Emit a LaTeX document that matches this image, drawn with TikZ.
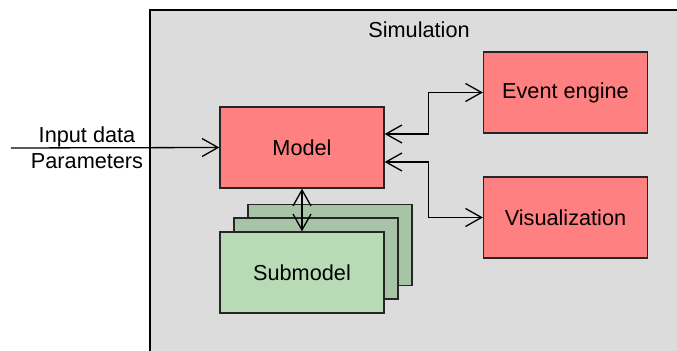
\documentclass[tikz,border=0pt]{standalone}
\usepackage{fontspec}
\setmainfont{Liberation Sans}
\usetikzlibrary{arrows.meta}

\definecolor{simgray}{RGB}{220,220,220}
\definecolor{modred}{RGB}{255,128,128}
\definecolor{subfront}{RGB}{184,219,182}
\definecolor{subback}{RGB}{168,196,166}

\tikzset{
    box/.style = {draw=black!85, line width=0.65pt, minimum width=82pt, minimum height=40.5pt,
                  inner sep=0pt, font=\fontsize{10.85}{13}\selectfont},
    redbox/.style = {box, fill=modred},
    subbox/.style = {box, fill=subfront},
    subshadow/.style = {box, fill=subback},
    link/.style = {line width=0.65pt, black, {Straight Barb[length=8pt,width=9pt]}-{Straight Barb[length=8pt,width=9pt]}}
}

\begin{document}
\begin{tikzpicture}[x=0.5pt, y=-0.5pt]
        \useasboundingbox (0,0) rectangle (677,351);
        \clip (0,0) rectangle (677,351);

        % simulation frame
        \draw[fill=simgray, line width=1pt] (150.5,10.5) rectangle (700,370);
        \node[font=\fontsize{10.85}{13}\selectfont] (simlabel) at (419,30) {Simulation};

        % boxes
        \node[redbox] (model) at (302,147.5) {Model};
        \node[redbox] (event) at (565.5,92.5) {Event engine};
        \node[redbox] (visual) at (565.5,217.5) {Visualization};

        \node[subshadow] (sub3) at (330,245) {};
        \node[subshadow] (sub2) at (316,258.5) {};
        \node[subbox] (sub1) at (302,272.5) {Submodel};

        % inputs
        \coordinate (input) at (11,148);
        \node[font=\fontsize{10.85}{13}\selectfont, align=center] (inlabel) at (87,148) {Input data\\Parameters};
        \draw[line width=0.65pt, -{Straight Barb[length=8pt,width=9pt]}] (input) -- (model.west);

        % links
        \draw[link] ([yshift=6.75pt]model.east) -- ++(44,0) |- (event.west);
        \draw[link] ([yshift=-7.25pt]model.east) -- ++(44,0) |- (visual.west);
        \draw[link] (model.south) -- (sub1.north);
    \end{tikzpicture}
\end{document}
